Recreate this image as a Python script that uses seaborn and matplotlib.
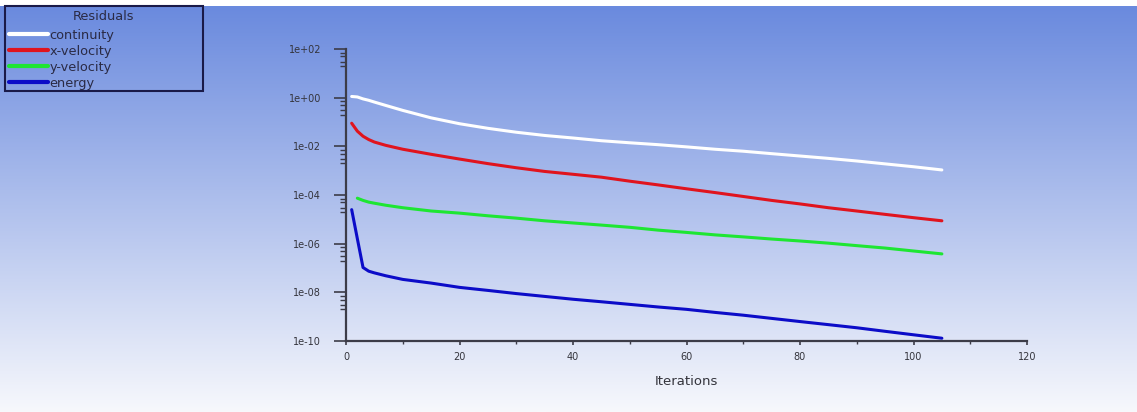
import numpy as np
import pandas as pd
import matplotlib
matplotlib.use("Agg")
import matplotlib.pyplot as plt
from matplotlib.patches import Rectangle
from matplotlib.ticker import FixedLocator, FuncFormatter, MultipleLocator
import seaborn as sns

# ---------------- data ----------------
iterations = [1, 2, 3, 4, 5, 7, 10, 15, 20, 25, 30, 35, 40, 45, 50, 55,
              60, 65, 70, 75, 80, 85, 90, 95, 100, 105]
continuity = [1.12, 1.07, 0.89, 0.78, 0.66, 0.48, 0.30, 0.148, 0.085, 0.055,
              0.038, 0.028, 0.022, 0.017, 0.014, 0.0117, 0.0095, 0.0076,
              0.0063, 0.0050, 0.0040, 0.0032, 0.0025, 0.0019, 0.00145, 0.00107]
x_velocity = [0.089, 0.042, 0.026, 0.019, 0.015, 0.011, 0.0076, 0.0047, 0.0030,
              0.00195, 0.00132, 9.3e-4, 7.1e-4, 5.4e-4, 3.7e-4, 2.6e-4, 1.8e-4,
              1.26e-4, 8.7e-5, 6.0e-5, 4.3e-5, 3.0e-5, 2.2e-5, 1.6e-5, 1.17e-5, 8.7e-6]
y_velocity = [np.nan, 7.4e-5, 6.0e-5, 5.1e-5, 4.6e-5, 3.8e-5, 3.0e-5, 2.2e-5,
              1.8e-5, 1.4e-5, 1.12e-5, 8.7e-6, 7.1e-6, 5.8e-6, 4.7e-6, 3.6e-6,
              2.9e-6, 2.3e-6, 1.9e-6, 1.55e-6, 1.29e-6, 1.05e-6, 8.3e-7, 6.6e-7,
              5.0e-7, 3.8e-7]
energy = [2.5e-5, 1.6e-6, 1.05e-7, 7.4e-8, 6.3e-8, 4.8e-8, 3.4e-8, 2.4e-8,
          1.6e-8, 1.2e-8, 8.9e-9, 6.8e-9, 5.2e-9, 4.1e-9, 3.2e-9, 2.5e-9,
          2.0e-9, 1.5e-9, 1.15e-9, 8.5e-10, 6.3e-10, 4.7e-10, 3.5e-10,
          2.5e-10, 1.8e-10, 1.3e-10]

series_names = ["continuity", "x-velocity", "y-velocity", "energy"]
series_colors = ["#ffffff", "#e0141e", "#1ee632", "#0c0cc8"]
x_ticks = [0, 20, 40, 60, 80, 100, 120]
y_tick_values = [1e2, 1e0, 1e-2, 1e-4, 1e-6, 1e-8, 1e-10]

df = pd.DataFrame({
    "Iterations": iterations * 4,
    "Residual": continuity + x_velocity + y_velocity + energy,
    "series": sum([[n] * len(iterations) for n in series_names], []),
}).dropna()

# ---------------- figure ----------------
sns.set_style("ticks")
plt.rcParams["font.family"] = ["DejaVu Sans"]

W, H = 1137, 412
fig = plt.figure(figsize=(W / 100, H / 100), dpi=100)
fig.patch.set_facecolor("white")

# gradient background (white strip at top)
bg = fig.add_axes([0, 0, 1, (H - 6) / H], zorder=-10)
top = np.array([106, 138, 222]) / 255.0
bot = np.array([247, 248, 252]) / 255.0
t = np.linspace(0, 1, 256)[:, None]
grad = top[None, :] * (1 - t) + bot[None, :] * t
bg.imshow(grad[:, None, :], aspect="auto", extent=[0, 1, 0, 1])
bg.set_axis_off()

ax = fig.add_axes([346 / W, 1 - 341 / H, (1027 - 346) / W, (341 - 49) / H])
ax.set_facecolor("none")

palette = dict(zip(series_names, series_colors))
sns.lineplot(data=df, x="Iterations", y="Residual", hue="series",
             hue_order=series_names, palette=palette, linewidth=2.2,
             ax=ax, legend=True)
ax.set_yscale("log")
ax.set_xlim(0, 120)
ax.set_ylim(1e-10, 1e2)

spine_col = "#3c3c48"
for s in ["top", "right"]:
    ax.spines[s].set_visible(False)
for s in ["left", "bottom"]:
    ax.spines[s].set_color(spine_col)
    ax.spines[s].set_linewidth(1.6)

ax.yaxis.set_major_locator(FixedLocator(y_tick_values))
ax.yaxis.set_major_formatter(FuncFormatter(lambda v, p: f"{v:.0e}"))
minor = []
for v in y_tick_values[:-1]:
    for m in (0.7, 0.5, 0.3, 0.2):
        minor.append(v * m)
ax.yaxis.set_minor_locator(FixedLocator(minor))
ax.yaxis.set_minor_formatter(FuncFormatter(lambda v, p: ""))
ax.tick_params(axis="y", which="major", length=9, width=1.2, color=spine_col,
               labelsize=7, labelcolor="#34343c", pad=9)
ax.tick_params(axis="y", which="minor", length=4, width=1.0, color=spine_col)

ax.xaxis.set_major_locator(FixedLocator(x_ticks))
ax.xaxis.set_minor_locator(MultipleLocator(10))
ax.tick_params(axis="x", which="major", length=3, width=1.2, color=spine_col,
               labelsize=7, labelcolor="#34343c", pad=5)
ax.tick_params(axis="x", which="minor", length=2, width=1.0, color=spine_col)

ax.set_xlabel("Iterations", fontsize=9.5, color="#34343c", labelpad=9)
ax.set_ylabel("")

# legend
handles, labels = ax.get_legend_handles_labels()
ax.get_legend().remove()
leg = fig.legend(handles, labels, loc="upper left",
                 bbox_to_anchor=(9 / W, 1 - 29 / H), frameon=False,
                 borderpad=0, borderaxespad=0, handlelength=3.0,
                 handletextpad=0.15, labelspacing=0.22,
                 prop={"size": 9.3})
for line in leg.get_lines():
    line.set_linewidth(3.0)
for txt in leg.get_texts():
    txt.set_color("#2a2a44")

fig.patches.append(Rectangle((5 / W, 1 - 91 / H), 198 / W, 85 / H,
                             transform=fig.transFigure, fill=False,
                             edgecolor="#1a1a48", linewidth=1.5, zorder=5))
fig.text(104 / W, 1 - 17 / H, "Residuals", ha="center", va="center",
         fontsize=9.3, color="#2a2a44")

fig.savefig("out.png", dpi=100)
